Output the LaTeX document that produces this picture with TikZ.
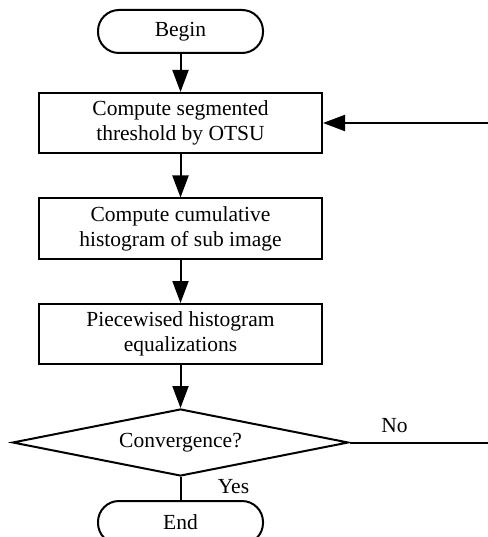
\documentclass[tikz,border=0pt]{standalone}
\usepackage{fontspec}
\setmainfont{Liberation Serif}
\usetikzlibrary{arrows.meta, shapes.geometric}

\tikzset{
  startstop/.style={draw, line width=2pt, rounded corners=21pt, minimum width=165pt, minimum height=43pt, inner sep=0pt},
  process/.style={draw, line width=2pt, minimum width=283pt, minimum height=60pt, align=center, inner sep=0pt},
  decision/.style={draw, line width=2pt, diamond, aspect=5, minimum width=336pt, minimum height=67pt, inner sep=0pt},
  flow/.style={line width=2pt, -{Triangle[length=22pt,width=16pt]}},
  line/.style={line width=2pt},
}

\begin{document}
\begin{tikzpicture}[x=1pt, y=-1pt, font=\fontsize{21.5}{25}\selectfont]
\useasboundingbox (0,0) rectangle (487,537);
% boxes
\node[startstop] (begin) at (180.5,31.5) {Begin};
\node[process] (otsu) at (180.5,123) {Compute segmented\\threshold by OTSU};
\node[process] (cumul) at (180.5,228.5) {Compute cumulative\\histogram of sub image};
\node[process] (equal) at (180.5,334) {Piecewised histogram\\equalizations};
\node[decision] (conv) at (180.5,442.5) {Convergence?};
\node[startstop] (end) at (180.5,522.5) {End};
\coordinate (ret) at (497,123);
% arrows
\draw[flow] (begin) -- (otsu);
\draw[flow] (otsu) -- (cumul);
\draw[flow] (cumul) -- (equal);
\draw[flow] (equal) -- (conv);
\draw[line] (conv) -- (end) node[pos=0.4, right=33pt] (yes) {Yes};
\draw[flow] (conv.east) -| (ret) |- (otsu.east);
\node[anchor=base] (no) at (394.5,432) {No};
\end{tikzpicture}
\end{document}
